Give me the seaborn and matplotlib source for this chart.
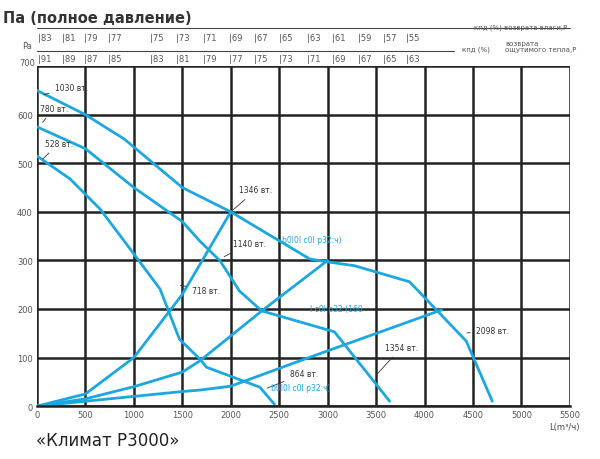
import matplotlib
matplotlib.use("Agg")
import matplotlib.pyplot as plt
import seaborn as sns

sns.set_theme(style="white")
plt.rcParams['font.family'] = ['DejaVu Sans']

# fan curves
qA = [0, 500, 900, 1200, 1500, 2000, 2815, 3000, 3280, 3845, 4430, 4700]
pA = [650, 600, 550, 500, 450, 400, 303, 297, 289, 256, 134, 10]
qB = [0, 500, 1000, 1500, 1680, 1890, 2090, 2320, 3070, 3640]
pB = [575, 530, 450, 380, 340, 299, 237, 196, 153, 10]
qC = [0, 340, 650, 960, 1270, 1470, 1680, 1750, 2300, 2450]
pC = [515, 468, 406, 324, 241, 138, 97, 80, 39, 4]
# network curves
qD = [0, 500, 1000, 1500, 2000]
pD = [0, 25, 100, 230, 400]
qE = [0, 500, 1000, 1500, 1680, 2320, 3000]
pE = [0, 15, 40, 70, 93, 196, 300]
qF = [0, 500, 1000, 1500, 1680, 2000, 2710, 4175]
pF = [0, 10, 20, 30, 33, 41, 93, 198]

xticks = [0, 500, 1000, 1500, 2000, 2500, 3000, 3500, 4000, 4500, 5000, 5500]
yticks = [0, 100, 200, 300, 400, 500, 600, 700]
scale_pos = [10, 258, 485, 732, 1165, 1433, 1711, 1979, 2237, 2495, 2784, 3041, 3309, 3567, 3814]
row1 = ["83", "81", "79", "77", "75", "73", "71", "69", "67", "65", "63", "61", "59", "57", "55"]
row2 = ["91", "89", "87", "85", "83", "81", "79", "77", "75", "73", "71", "69", "67", "65", "63"]

labels = [("1030 вт.", 186, 650, 40, 640), ("780 вт.", 30, 608, 40, 580),
          ("528 вт.", 80, 536, 40, 505), ("1346 вт.", 2090, 440, 2000, 400),
          ("1140 вт.", 2020, 330, 1907, 305), ("718 вт.", 1600, 233, 1450, 250),
          ("864 вт.", 2610, 62, 2350, 35), ("1354 вт.", 3590, 116, 3485, 60),
          ("2098 вт.", 4535, 151, 4410, 150)]
blue = [("b0l0l c0l p32:ч)", 2525, 344), ("l c0l p32:(160", 2815, 200), ("b0l0l c0l p32:ч)", 2420, 39)]

fig = plt.figure(figsize=(6, 4.6), dpi=100)
ax = fig.add_axes([0.0617, 0.115, 0.888, 0.739])
blue_c = "#1ba8e0"
for q, p in [(qA, pA), (qB, pB), (qC, pC), (qD, pD), (qE, pE), (qF, pF)]:
    sns.lineplot(x=q, y=p, ax=ax, color=blue_c, lw=2, sort=False, estimator=None)

ax.set_xlim(0, 5500)
ax.set_ylim(0, 700)
ax.set_xticks(xticks)
ax.set_yticks(yticks)
ax.tick_params(length=0, labelsize=6, colors="#555555", pad=3)
ax.set_yticklabels([str(v) if v < 700 else "" for v in yticks])
ax.grid(True, color="#222222", lw=1.8)
for s in ax.spines.values():
    s.set_visible(False)
ax.spines['bottom'].set_visible(True)
ax.spines['bottom'].set_color("#222222")
ax.spines['bottom'].set_linewidth(1.8)
ax.set_axisbelow(True)

for t, tx, ty, ax_, ay_ in labels:
    ax.annotate(t, xy=(ax_, ay_), xytext=(tx, ty), fontsize=5.5, color="#333333",
                arrowprops=dict(arrowstyle="-", color="#333333", lw=0.6))
for t, tx, ty in blue:
    ax.text(tx, ty, t, fontsize=5.5, color=blue_c, ha="left", va="center")

tr = ax.get_xaxis_transform()
for x, a, b in zip(scale_pos, row1, row2):
    ax.text(x, 1.085, "|" + a, transform=tr, fontsize=6, color="#555555", va="center", clip_on=False)
    ax.text(x, 1.024, "|" + b, transform=tr, fontsize=6, color="#555555", va="center", clip_on=False)
ax.plot([0, 5500], [1.112, 1.112], transform=tr, color="#444444", lw=0.8, clip_on=False)
ax.plot([0, 4300], [1.046, 1.046], transform=tr, color="#444444", lw=0.8, clip_on=False)

fig.text(0.005, 0.95, "Па (полное давление)", fontsize=10.5, fontweight="bold", color="#333333")
fig.text(0.945, 0.935, "кпд (%) возврата влаги,P", fontsize=5, color="#555555", ha="right")
fig.text(0.77, 0.887, "кпд (%)", fontsize=5, color="#555555")
fig.text(0.842, 0.887, "возврата\nощутимого тепла,P", fontsize=5, color="#555555", linespacing=0.9)
fig.text(0.045, 0.893, "Pa", fontsize=6, color="#555555", ha="center")
fig.text(0.045, 0.857, "700", fontsize=6, color="#555555", ha="center")
fig.text(0.94, 0.065, "L(m³/ч)", fontsize=6, color="#444444", ha="center")
fig.text(0.06, 0.03, "«Климат P3000»", fontsize=12, color="#222222")

fig.savefig("out.png", dpi=100)
